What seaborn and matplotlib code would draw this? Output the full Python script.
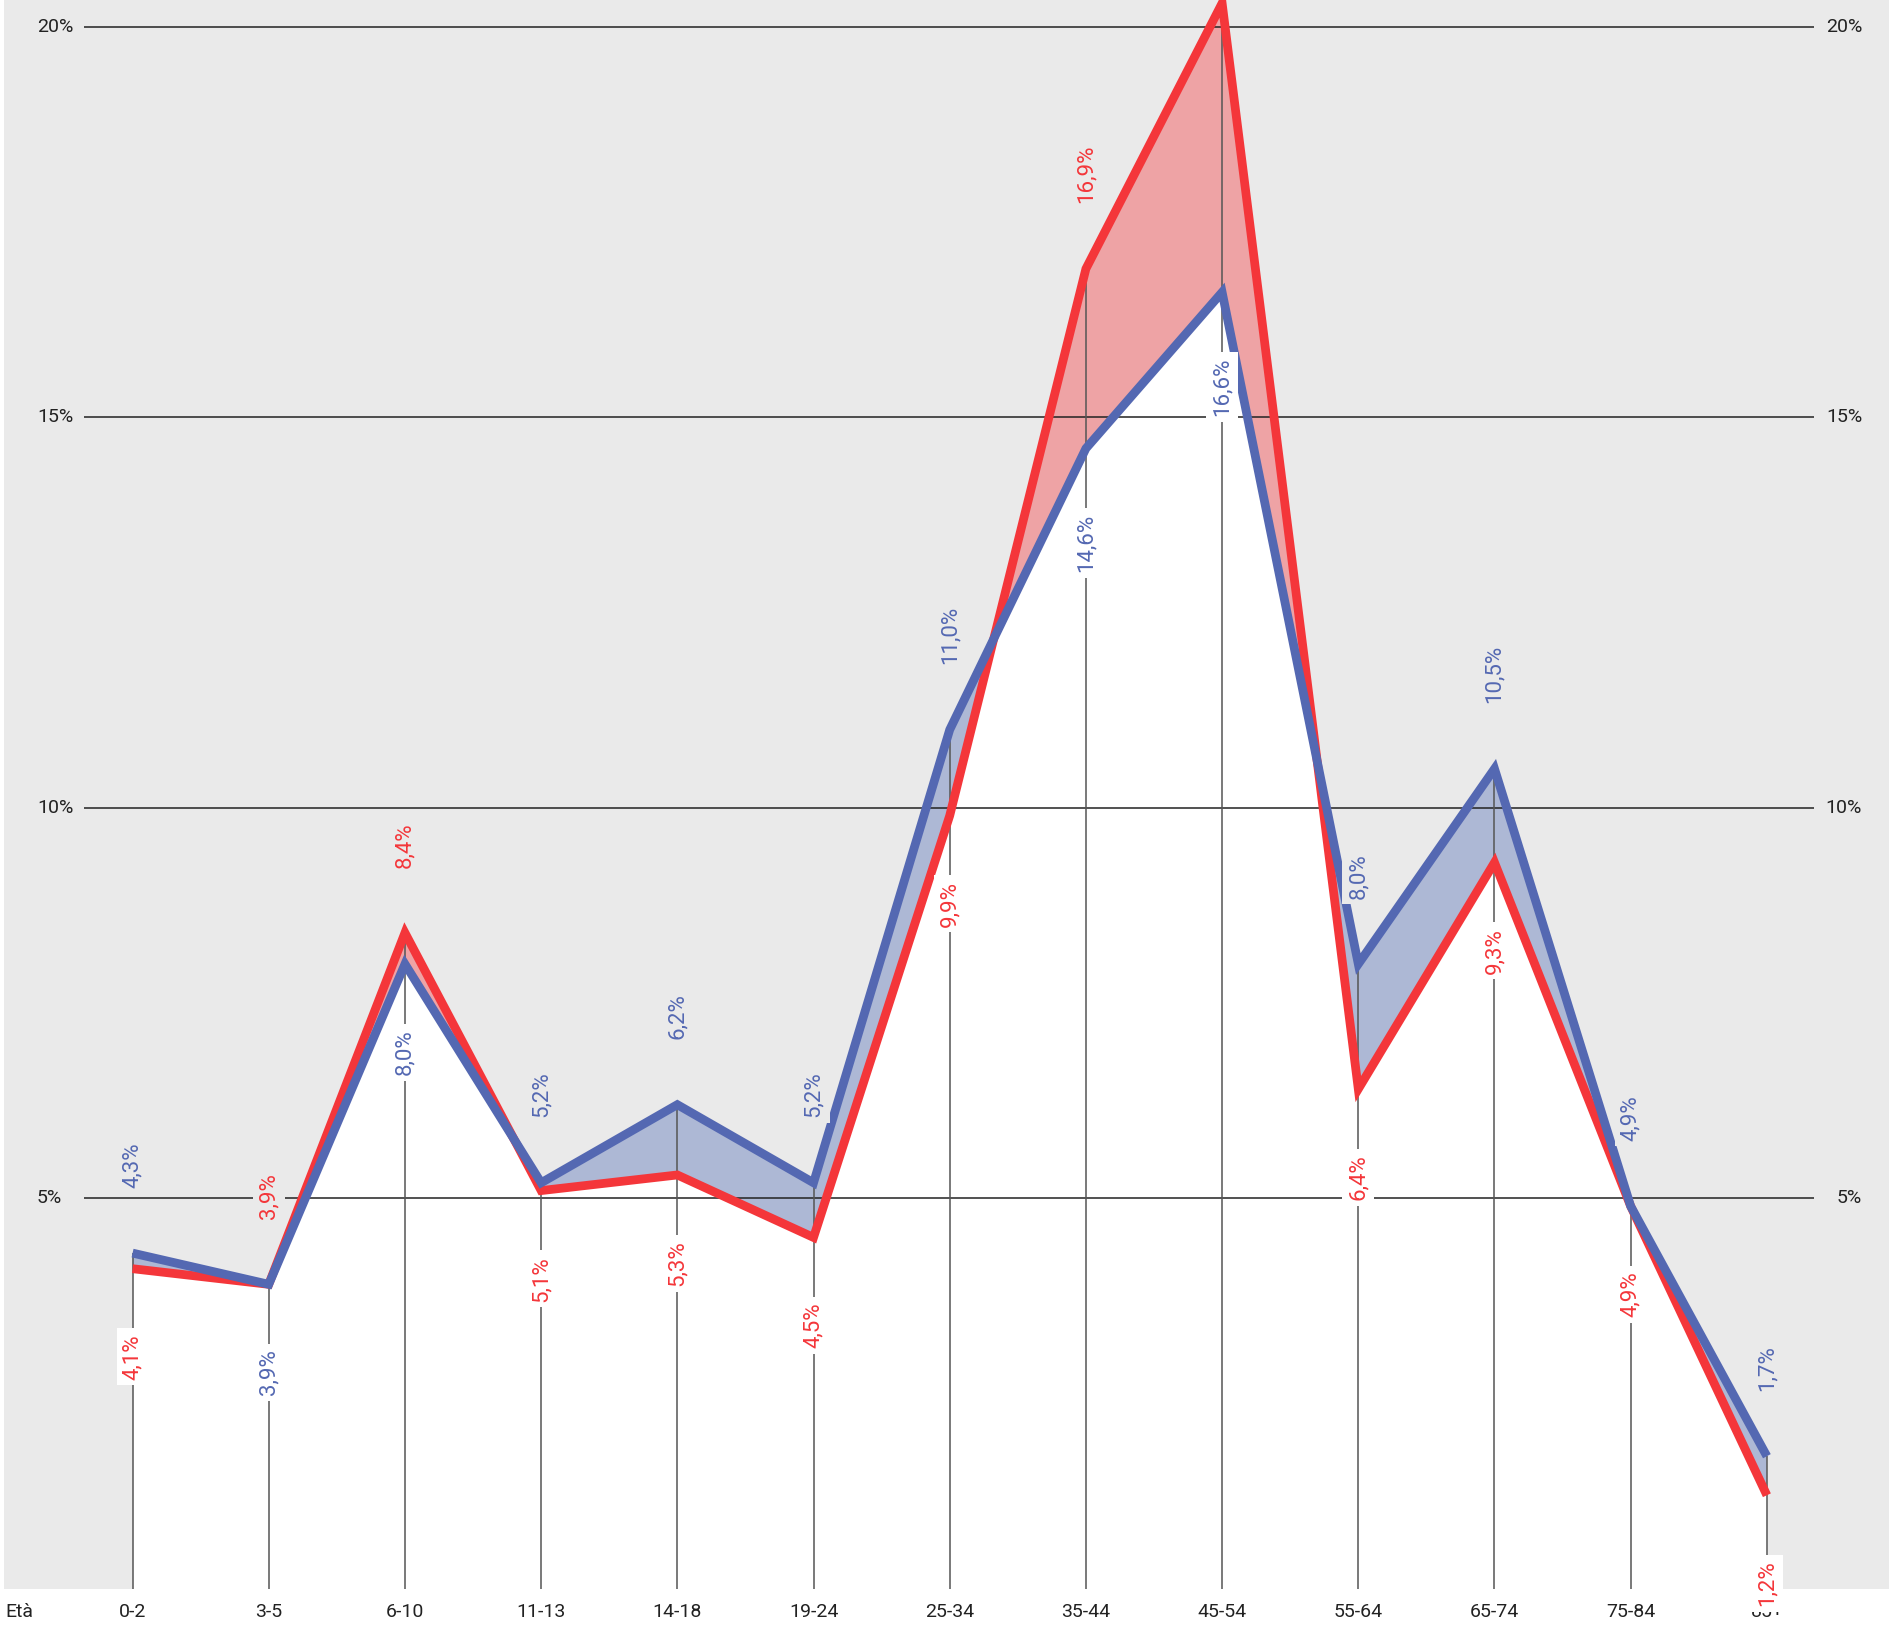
import numpy as np
import pandas as pd
import matplotlib
matplotlib.use("Agg")
import matplotlib.pyplot as plt
import seaborn as sns

# Age groups and shares (%) for the two series
ages = ["0-2", "3-5", "6-10", "11-13", "14-18", "19-24", "25-34",
        "35-44", "45-54", "55-64", "65-74", "75-84", "85+"]
red_vals = [4.1, 3.9, 8.4, 5.1, 5.3, 4.5, 9.9, 16.9, 20.3, 6.4, 9.3, 4.9, 1.2]
blue_vals = [4.3, 3.9, 8.0, 5.2, 6.2, 5.2, 11.0, 14.6, 16.6, 8.0, 10.5, 4.9, 1.7]
# which series carries the label placed above the point
label_above = ["blue", "red", "red", "blue", "blue", "blue", "blue",
               "red", "red", "blue", "blue", "blue", "blue"]
y_ticks = [5, 10, 15, 20]

RED = "#f4363a"
BLUE = "#5468b2"
RED_FILL = "#eea3a5"
BLUE_FILL = "#adb8d5"
BG = "#eaeaea"
INK = "#222222"

sns.set_style("white")
plt.rcParams["font.family"] = ["Roboto", "DejaVu Sans"]

fig = plt.figure(figsize=(18.9, 16.28), dpi=100)
ax = fig.add_axes([4 / 1890, 39 / 1628, 1886 / 1890, 1589 / 1628])
ax.set_facecolor(BG)
for s in ax.spines.values():
    s.set_visible(False)

x = np.arange(len(ages))
red = np.array(red_vals)
blue = np.array(blue_vals)

# white area under the curves, then the gap between the two series
ax.fill_between(x, 0, red, color="white", lw=0, zorder=1)
ax.fill_between(x, 0, blue, color="white", lw=0, zorder=1)
ax.fill_between(x, red, blue, where=red >= blue, interpolate=True,
                color=RED_FILL, lw=0, zorder=1.5)
ax.fill_between(x, red, blue, where=blue >= red, interpolate=True,
                color=BLUE_FILL, lw=0, zorder=1.5)

# horizontal reference lines and drop lines
ax.hlines(y_ticks, -0.357, 12.345, color=INK, lw=1.1, zorder=2)
ax.vlines(x, 0, np.maximum(red, blue), color="#555555", lw=1.1, zorder=2.2)

df = pd.DataFrame({
    "age": np.concatenate([x, x]),
    "value": np.concatenate([red, blue]),
    "series": ["red"] * len(x) + ["blue"] * len(x),
})
sns.lineplot(data=df, x="age", y="value", hue="series",
             palette={"red": RED, "blue": BLUE}, hue_order=["red", "blue"],
             sort=False, linewidth=6.3, legend=False, ax=ax,
             solid_joinstyle="miter", solid_capstyle="butt")
for ln in ax.lines[-2:]:
    ln.set_zorder(3)

ax.set_xlim(-0.944, 12.904)
ax.set_ylim(0, 1589 / 78.12)
ax.set_xlabel("")
ax.set_ylabel("")
ax.set_yticks([])
ax.set_xticks(x, ages)
ax.tick_params(axis="x", length=0, pad=10, labelsize=14, labelcolor=INK)

# percentage labels on both sides
ytr = ax.get_yaxis_transform()
for t in y_ticks:
    ax.text(0.0175, t, f"{t}%", transform=ytr, ha="left", va="center",
            fontsize=14, color=INK, zorder=4)
    ax.text(0.9852, t, f"{t}%", transform=ytr, ha="right", va="center",
            fontsize=14, color=INK, zorder=4)

ax.annotate("Età", xy=(0, 0), xycoords="axes fraction", xytext=(1, -10),
            textcoords="offset points", ha="left", va="top", fontsize=14,
            color=INK, annotation_clip=False)

# value labels: upper one above its point, lower one below
def fmt(v):
    return f"{v:.1f}".replace(".", ",") + "%"

for i in range(len(ages)):
    for name, vals, col in (("red", red, RED), ("blue", blue, BLUE)):
        v = vals[i]
        above = label_above[i] == name
        if above and v > 19:
            continue
        ax.annotate(fmt(v), xy=(i, v), xytext=(0, 47 if above else -47),
                    textcoords="offset points", rotation=90, ha="center",
                    va="bottom" if above else "top", fontsize=16, color=col,
                    zorder=10, annotation_clip=False,
                    bbox=dict(boxstyle="square,pad=0.25",
                              fc=BG if above else "white", ec="none"))

fig.savefig("out.png", dpi=100)
